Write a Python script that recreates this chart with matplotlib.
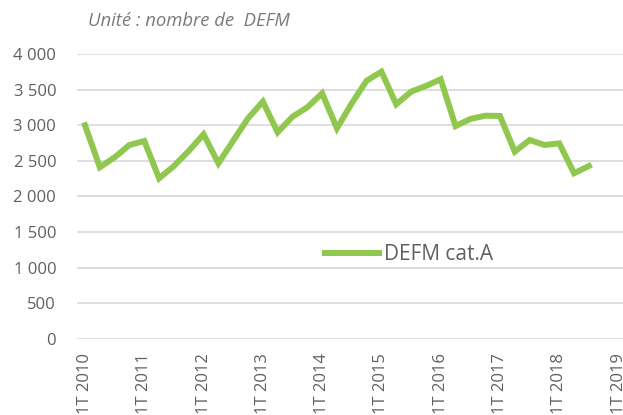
import matplotlib
matplotlib.use("Agg")
import matplotlib.pyplot as plt
from matplotlib.ticker import FuncFormatter

# quarterly DEFM cat.A, 1T 2010 -> 3T 2018
years = list(range(2010, 2020))
quarters = ["%dT %d" % (q, y) for y in years for q in range(1, 5)][:37]
defm_a = [3000, 2410, 2550, 2723, 2779, 2255, 2428, 2639, 2873, 2466,
          2783, 3098, 3331, 2901, 3120, 3252, 3448, 2957, 3308, 3625,
          3752, 3294, 3471, 3551, 3645, 2989, 3088, 3134, 3130, 2629,
          2793, 2723, 2746, 2326, 2428]
yticks = [0, 500, 1000, 1500, 2000, 2500, 3000, 3500, 4000]

plt.rcParams['font.family'] = ['Open Sans', 'DejaVu Sans']
grey = '#606060'

fig = plt.figure(figsize=(6.23, 4.15), dpi=100)
ax = fig.add_axes([77 / 623, 1 - 339 / 415, 1 - 77 / 623, 285 / 415])

x = list(range(len(defm_a)))
ax.plot(x, defm_a, color='#8fc74f', lw=4.3, solid_joinstyle='miter',
        label='DEFM cat.A')

ax.set_ylim(0, 4000)
ax.set_yticks(yticks)
ax.yaxis.set_major_formatter(FuncFormatter(lambda v, p: "{:,.0f}".format(v).replace(",", " ")))
ax.set_xlim(-0.54, 36.3)
tick_pos = list(range(0, len(quarters), 4))
ax.set_xticks(tick_pos)
ax.set_xticklabels([quarters[i] for i in tick_pos], rotation=90, va='top')

ax.grid(axis='y', color='#d9d9d9', lw=1.2)
ax.set_axisbelow(True)
for s in ax.spines.values():
    s.set_visible(False)
ax.tick_params(axis='y', length=0, pad=15, labelsize=12, labelcolor=grey)
ax.tick_params(axis='x', length=0, pad=10, labelsize=12, labelcolor=grey)

leg = ax.legend(loc='center', bbox_to_anchor=(0.608, 0.295), frameon=False,
                fontsize=15, handlelength=2.6, handletextpad=0.25, borderpad=0)
for t in leg.get_texts():
    t.set_color(grey)

fig.text(88 / 623, 1 - 21 / 415, "Unité : nombre de  DEFM", style='italic',
         color='#7a7a7a', fontsize=13.3, va='center', ha='left')

fig.savefig('out.png', dpi=100)
